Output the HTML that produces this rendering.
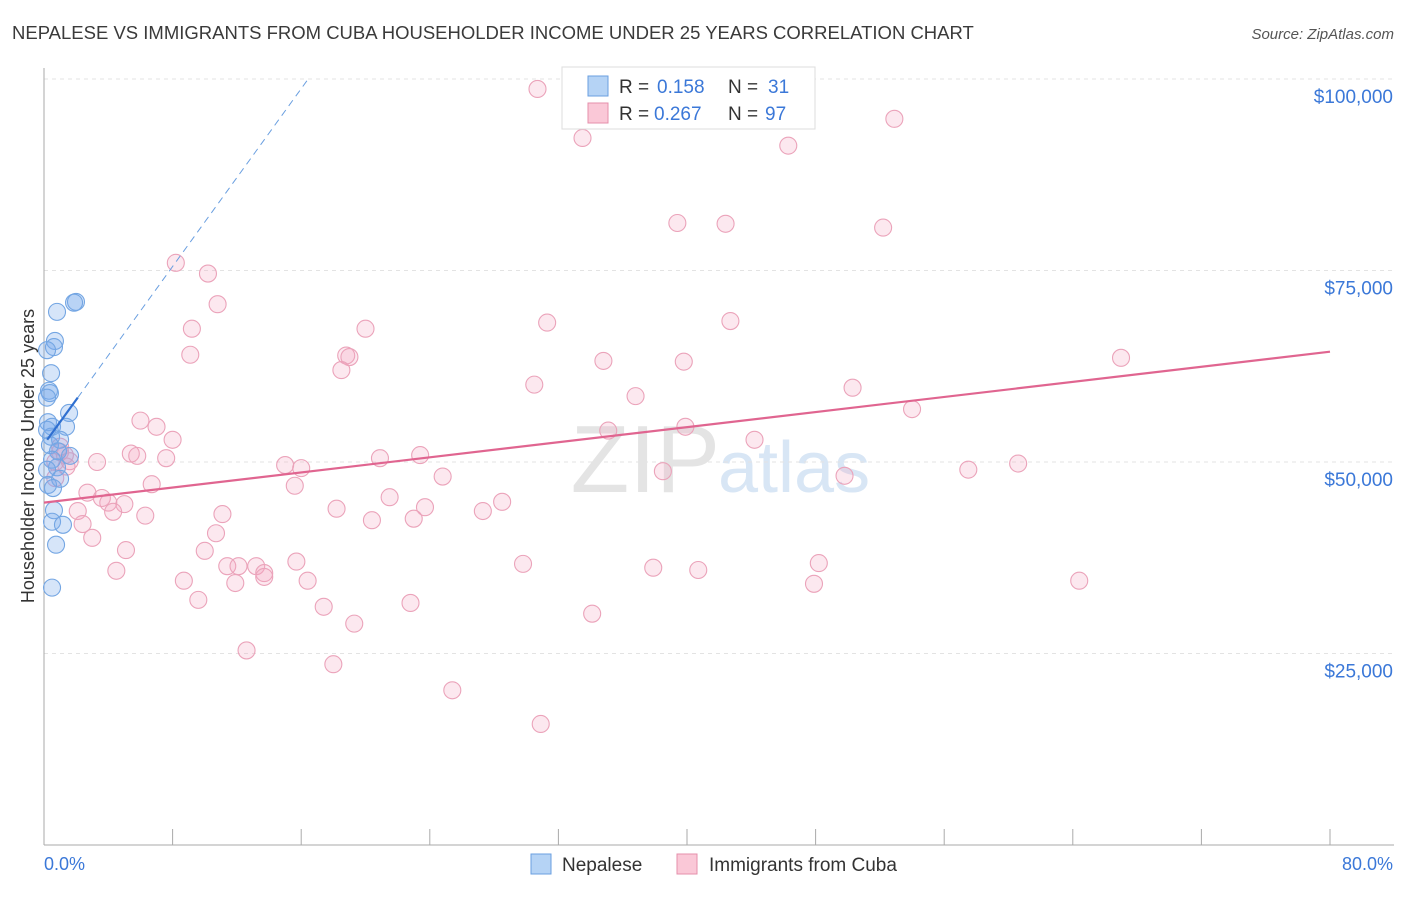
<!DOCTYPE html>
<html><head><meta charset="utf-8"><style>
body{margin:0;background:#fff;font-family:"Liberation Sans",sans-serif}
svg text{font-family:"Liberation Sans",sans-serif}
</style></head><body>
<svg id="chart" width="1406" height="892" xmlns="http://www.w3.org/2000/svg">
<text x="12" y="39" font-size="18.5" fill="#3a3a3a">NEPALESE VS IMMIGRANTS FROM CUBA HOUSEHOLDER INCOME UNDER 25 YEARS CORRELATION CHART</text>
<text x="1394" y="39" font-size="15" fill="#555" font-style="italic" text-anchor="end">Source: ZipAtlas.com</text>
<text x="720" y="492" font-size="96" fill="#e4e4e4" text-anchor="end" font-family="Liberation Serif">ZIP</text>
<text x="718" y="492" font-size="72" fill="#d8e6f5">atlas</text>
<g id="grid"></g><g id="axes"></g><g id="pts"></g><g id="lines"></g>
<text transform="translate(34,456) rotate(-90)" font-size="18" fill="#333" text-anchor="middle">Householder Income Under 25 years</text>
<text x="44" y="870" font-size="18" fill="#3b78d8">0.0%</text>
<text x="1393" y="870" font-size="18" fill="#3b78d8" text-anchor="end">80.0%</text>
<g>
<rect x="562" y="67" width="253" height="62" fill="#fff" stroke="#ddd"/>
<rect x="588" y="76" width="20" height="20" fill="#b5d3f5" stroke="#6a9fe0"/>
<rect x="588" y="103" width="20" height="20" fill="#fac8d7" stroke="#e58fab"/>
<text x="619" y="93" font-size="19" fill="#333">R =</text>
<text x="657" y="93" font-size="19" fill="#3b78d8">0.158</text>
<text x="728" y="93" font-size="19" fill="#333">N =</text>
<text x="768" y="93" font-size="19" fill="#3b78d8">31</text>
<text x="619" y="120" font-size="19" fill="#333">R =</text>
<text x="654" y="120" font-size="19" fill="#3b78d8">0.267</text>
<text x="728" y="120" font-size="19" fill="#333">N =</text>
<text x="765" y="120" font-size="19" fill="#3b78d8">97</text>
</g>
<g>
<rect x="531" y="854" width="20" height="20" fill="#b5d3f5" stroke="#6a9fe0"/>
<text x="562" y="871" font-size="19" fill="#333">Nepalese</text>
<rect x="677" y="854" width="20" height="20" fill="#fac8d7" stroke="#e58fab"/>
<text x="709" y="871" font-size="19" fill="#333">Immigrants from Cuba</text>
</g>
</svg>
<script>
const yTicks=[25000,50000,75000,100000];
const yTickLabels=["$25,000","$50,000","$75,000","$100,000"];
const xTicks=[0,8,16,24,32,40,48,56,64,72,80];
const nepX=[1.99,1.87,0.81,0.68,0.62,0.19,0.44,0.31,0.37,0.19,1.56,0.25,0.50,1.37,0.44,1.00,0.37,0.87,1.62,0.50,0.81,1.00,0.25,0.56,0.62,0.50,1.18,0.75,0.50,0.19,0.19];
const nepY=[70.9,70.8,69.6,65.8,65.0,64.6,61.6,59.3,59.0,58.4,56.4,55.2,54.6,54.6,53.3,52.9,52.2,51.4,50.8,50.3,49.3,47.8,47.0,46.6,43.7,42.2,41.8,39.2,33.6,49.0,54.2];
const cubaX=[30.7,33.5,46.3,52.9,39.4,42.4,52.2,8.2,10.2,10.8,9.2,20.0,31.3,42.7,9.1,18.8,19.0,18.5,34.8,39.8,67.0,30.5,36.8,50.3,54.0,6.0,7.0,8.0,35.1,39.9,44.2,5.4,5.8,7.6,3.3,1.4,1.0,0.7,1.6,0.7,15.0,16.0,20.9,23.4,24.8,15.6,6.7,38.5,49.8,57.5,60.6,2.7,3.6,4.0,5.0,4.3,2.1,6.3,11.1,18.2,21.5,23.7,28.5,27.3,20.4,23.0,2.4,3.0,10.7,5.1,10.0,4.5,11.4,12.1,13.2,13.7,13.7,15.7,29.8,37.9,40.7,48.2,8.7,11.9,16.4,47.9,64.4,9.6,17.4,22.8,34.1,19.3,12.6,18.0,25.4,30.9,1.0,1.3];
const cubaY=[98.7,92.3,91.3,94.8,81.2,81.1,80.6,76.0,74.6,70.6,67.4,67.4,68.2,68.4,64.0,63.9,63.7,62.0,63.2,63.1,63.6,60.1,58.6,59.7,56.9,55.4,54.6,52.9,54.1,54.6,52.9,51.1,50.8,50.5,50.0,49.4,51.3,50.0,50.1,47.9,49.6,49.2,50.5,50.9,48.1,46.9,47.1,48.8,48.2,49.0,49.8,46.0,45.3,44.7,44.5,43.5,43.6,43.0,43.2,43.9,45.4,44.1,44.8,43.6,42.4,42.6,41.9,40.1,40.7,38.5,38.4,35.8,36.4,36.4,36.4,35.5,35.0,37.0,36.7,36.2,35.9,36.8,34.5,34.2,34.5,34.1,34.5,32.0,31.1,31.6,30.2,28.9,25.4,23.6,20.2,15.8,52.0,50.9];
const cubaTrend=[[0,44.7],[80,64.4]];
const nepTrend=[[0.2,52.9],[2.1,58.4]];
const nepTrendExt=[[2.1,58.4],[16.4,99.9]];
const NS="http://www.w3.org/2000/svg";
const sx=v=>44+v/80*1286;
const sy=v=>845-v/25*191.5;
function mk(tag,attrs,parent){const e=document.createElementNS(NS,tag);for(const k in attrs)e.setAttribute(k,attrs[k]);document.getElementById(parent).appendChild(e);return e;}
yTicks.forEach((t,i)=>{
 const y=sy(t/1000);
 const g=mk('line',{x1:44,x2:1394,y1:y,y2:y,stroke:'#e3e3e3','stroke-dasharray':'4,4'},'grid');
 
 
 const tx=mk('text',{x:1393,y:y+24,'font-size':19,fill:'#3b78d8','text-anchor':'end'},'grid');
 tx.textContent=yTickLabels[i];
 
 
});
const ax=mk('line',{x1:44,x2:44,y1:68,y2:845,stroke:'#aaa'},'axes');


const bx=mk('line',{x1:44,x2:1394,y1:845,y2:845,stroke:'#aaa'},'axes');


xTicks.forEach(t=>{
 const tk=mk('line',{x1:sx(t),x2:sx(t),y1:829,y2:845,stroke:'#aaa'},'axes');
 
 
});
cubaX.forEach((v,i)=>{
 const c=mk('circle',{cx:sx(v),cy:sy(cubaY[i]),r:8.5,fill:'rgba(244,165,190,0.25)',stroke:'#eba3ba','stroke-width':1.1},'pts');
 
 
});
nepX.forEach((v,i)=>{
 const c=mk('circle',{cx:sx(v),cy:sy(nepY[i]),r:8.5,fill:'rgba(120,170,235,0.3)',stroke:'#74a6e3','stroke-width':1.1},'pts');
 
 
});
const l1=mk('line',{x1:sx(cubaTrend[0][0]),y1:sy(cubaTrend[0][1]),x2:sx(cubaTrend[1][0]),y2:sy(cubaTrend[1][1]),stroke:'#e06590','stroke-width':2.2},'lines');


const l2=mk('line',{x1:sx(nepTrend[0][0]),y1:sy(nepTrend[0][1]),x2:sx(nepTrend[1][0]),y2:sy(nepTrend[1][1]),stroke:'#2f6fd0','stroke-width':2.2},'lines');


const l3=mk('line',{x1:sx(nepTrendExt[0][0]),y1:sy(nepTrendExt[0][1]),x2:sx(nepTrendExt[1][0]),y2:sy(nepTrendExt[1][1]),stroke:'#6a9fe0','stroke-width':1,'stroke-dasharray':'7,5'},'lines');


</script>
</body></html>
